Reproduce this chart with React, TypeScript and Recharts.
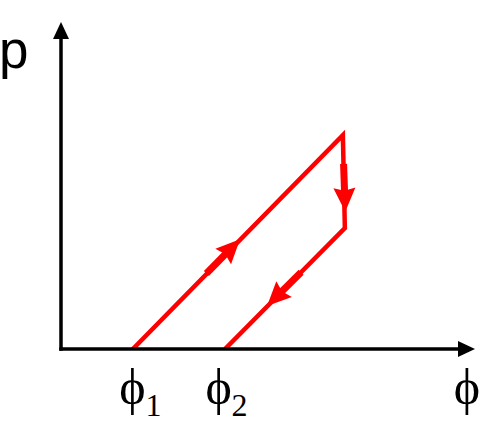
import { ComposedChart, Line, Scatter, XAxis, YAxis } from "recharts";

// hysteresis loop corners, in the order they are travelled (x = φ, y = p)
const loopPhi = [1.81, 7.1, 7.15, 4.13];
const loopP = [0, 5.52, 3.12, 0];

// arrowheads on the loop: tip position + direction of travel (deg, screen space)
const arrowPhi = [4.51, 7.16, 5.19];
const arrowP = [2.83, 3.54, 1.11];
const arrowDir = [-45.4, 88, 135.2];

// labelled points on the φ axis
const tickPhi = [1.8, 3.97];
const tickSubs = ["1", "2"];

const loop = loopPhi.map((x, i) => ({ x, y: loopP[i] }));
const arrows = arrowPhi.map((x, i) => ({ x, y: arrowP[i], dir: arrowDir[i] }));

const RED = "#ff0000";
const SERIF = "Liberation Serif, Times New Roman, serif";
const PHI = "\u03d5";

function ArrowHead(props: any) {
  const { cx, cy, payload } = props;
  if (cx == null || cy == null) return null;
  return (
    <g transform={`translate(${cx},${cy}) rotate(${payload.dir})`}>
      <line x1={-48} y1={0} x2={-20} y2={0} stroke={RED} strokeWidth={7} />
      <path d="M0,0 L-24,-11 L-21,0 L-24,11 Z" fill={RED} />
    </g>
  );
}

function PhiTick(props: any) {
  const { x, y, index } = props;
  return (
    <g>
      <text x={x} y={y + 55} textAnchor="middle" fontFamily={SERIF} fontSize={50} fill="#000">
        {PHI}
      </text>
      <text x={x + 13} y={y + 67} fontFamily={SERIF} fontSize={32} fill="#000">
        {tickSubs[index]}
      </text>
    </g>
  );
}

function PhiEndLabel(props: any) {
  const vb = props.viewBox || {};
  return (
    <text
      x={vb.x + vb.width + 9}
      y={vb.y + 55}
      textAnchor="middle"
      fontFamily={SERIF}
      fontSize={50}
      fill="#000"
    >
      {PHI}
    </text>
  );
}

function PLabel(props: any) {
  const vb = props.viewBox || {};
  return (
    <text x={vb.x - 1} y={vb.y + 29} fontFamily="Liberation Sans, Arial, sans-serif" fontSize={53} fill="#000">
      p
    </text>
  );
}

export default function App() {
  return (
    <div style={{ position: "absolute", left: 0, top: 0, width: 491, height: 423, background: "#fff" }}>
      <svg width={0} height={0} style={{ position: "absolute" }}>
        <defs>
          <marker
            id="axisArrow"
            markerUnits="userSpaceOnUse"
            markerWidth={17}
            markerHeight={16}
            viewBox="0 0 17 16"
            refX={0}
            refY={8}
            orient="auto-start-reverse"
          >
            <path d="M0,0 L17,8 L0,16 Z" fill="#000" />
          </marker>
        </defs>
      </svg>
      <ComposedChart width={491} height={423} margin={{ top: 39, right: 33, bottom: 0, left: 0 }}>
        <XAxis
          type="number"
          dataKey="x"
          domain={[0, 10]}
          allowDataOverflow
          ticks={tickPhi}
          interval={0}
          tickLine={false}
          tickSize={0}
          tickMargin={0}
          tick={<PhiTick />}
          height={74}
          axisLine={{ stroke: "#000", strokeWidth: 3.5, strokeLinecap: "square", markerEnd: "url(#axisArrow)" }}
          label={<PhiEndLabel />}
        />
        <YAxis
          type="number"
          dataKey="y"
          domain={[0, 8]}
          allowDataOverflow
          tick={false}
          tickLine={false}
          width={61}
          axisLine={{ stroke: "#000", strokeWidth: 3.5, strokeLinecap: "square", markerStart: "url(#axisArrow)" }}
          label={<PLabel />}
        />
        <Line
          data={loop}
          dataKey="y"
          type="linear"
          stroke={RED}
          strokeWidth={4.5}
          dot={false}
          activeDot={false}
          isAnimationActive={false}
        />
        <Scatter data={arrows} dataKey="y" shape={<ArrowHead />} isAnimationActive={false} />
      </ComposedChart>
    </div>
  );
}
